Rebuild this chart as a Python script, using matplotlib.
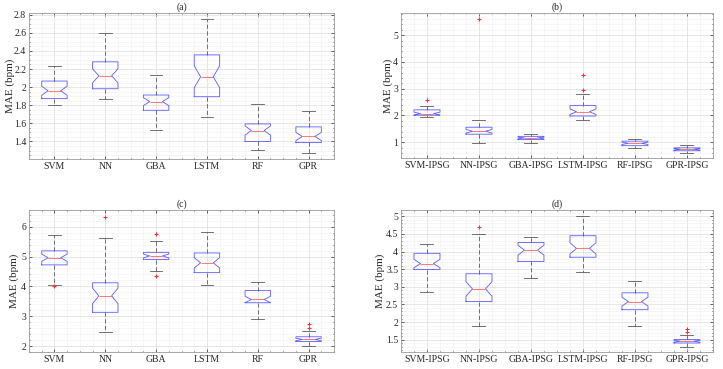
import numpy as np
import matplotlib.pyplot as plt
from matplotlib.ticker import MultipleLocator, FuncFormatter

plt.rcParams['font.family'] = ['Liberation Serif', 'DejaVu Serif']

# number of runs behind each box (sets the notch size, MATLAB style)
n_runs = 36

labels_plain = ["SVM", "NN", "GBA", "LSTM", "RF", "GPR"]
labels_ipsg = ["SVM-IPSG", "NN-IPSG", "GBA-IPSG", "LSTM-IPSG", "RF-IPSG", "GPR-IPSG"]

# (a)
a_lo = [1.80, 1.865, 1.532, 1.671, 1.301, 1.275]
a_q1 = [1.873, 1.982, 1.744, 1.894, 1.40, 1.389]
a_med = [1.960, 2.125, 1.840, 2.114, 1.521, 1.455]
a_q3 = [2.067, 2.279, 1.913, 2.356, 1.594, 1.561]
a_hi = [2.235, 2.598, 2.136, 2.752, 1.818, 1.737]
a_out = [[], [], [], [], [], []]

# (b)
b_lo = [1.93, 0.96, 0.96, 1.82, 0.78, 0.61]
b_q1 = [2.01, 1.30, 1.10, 1.98, 0.87, 0.68]
b_med = [2.07, 1.41, 1.16, 2.14, 0.96, 0.735]
b_q3 = [2.21, 1.56, 1.22, 2.37, 1.04, 0.79]
b_hi = [2.34, 1.82, 1.32, 2.79, 1.11, 0.89]
b_out = [[2.56], [5.60], [], [2.97, 3.50], [], []]

# (c)
c_lo = [4.06, 2.47, 4.51, 4.04, 2.90, 2.00]
c_q1 = [4.72, 3.13, 4.90, 4.46, 3.45, 2.15]
c_med = [4.96, 3.68, 5.02, 4.79, 3.56, 2.22]
c_q3 = [5.19, 4.12, 5.14, 5.12, 3.86, 2.31]
c_hi = [5.72, 5.62, 5.53, 5.83, 4.16, 2.51]
c_out = [[4.02], [6.32], [4.34, 5.75], [], [], [2.59, 2.75]]

# (d)
d_lo = [2.84, 1.90, 3.26, 3.43, 1.90, 1.30]
d_q1 = [3.49, 2.58, 3.72, 3.84, 2.35, 1.405]
d_med = [3.66, 2.94, 4.04, 4.09, 2.58, 1.455]
d_q3 = [3.95, 3.37, 4.26, 4.45, 2.83, 1.505]
d_hi = [4.22, 4.51, 4.42, 5.00, 3.17, 1.64]
d_out = [[], [4.69], [], [], [], [1.71, 1.79]]


def make_stats(lo, q1, med, q3, hi, out):
    stats = []
    for i in range(len(med)):
        half = 1.57 * (q3[i] - q1[i]) / np.sqrt(n_runs)
        stats.append({
            "whislo": lo[i], "q1": q1[i], "med": med[i], "q3": q3[i],
            "whishi": hi[i], "fliers": out[i],
            "cilo": med[i] - half, "cihi": med[i] + half,
        })
    return stats


def draw_panel(ax, labels, stats, title, ylim, major, minor, label_x):
    ax.grid(True, which='major', color='#dcdcdc', linewidth=0.5, zorder=0)
    ax.grid(True, which='minor', color='#efefef', linewidth=0.4, zorder=0)
    ax.set_axisbelow(True)
    ax.bxp(stats, positions=range(1, len(stats) + 1), widths=0.5,
           shownotches=True, showfliers=True,
           boxprops=dict(color='#5a5aff', linewidth=0.6),
           medianprops=dict(color='#ff6060', linewidth=0.6),
           whiskerprops=dict(color='#5a5a5a', linewidth=0.6, linestyle=(0, (5, 3))),
           capprops=dict(color='#5a5a5a', linewidth=0.6),
           flierprops=dict(marker='+', color='#ff3030', markeredgecolor='#ff3030',
                           markersize=3.5, markeredgewidth=0.8, linestyle='none'))
    ax.set_xlim(0.5, len(stats) + 0.5)
    ax.set_ylim(*ylim)
    ax.set_xticks(range(1, len(stats) + 1))
    ax.set_xticklabels(labels)
    ax.xaxis.set_minor_locator(MultipleLocator(0.25))
    ax.yaxis.set_major_locator(MultipleLocator(major))
    ax.yaxis.set_minor_locator(MultipleLocator(minor))
    ax.yaxis.set_major_formatter(FuncFormatter(lambda v, p: f"{v:g}"))
    ax.tick_params(which='both', direction='in', top=True, right=True,
                   labelsize=7, colors='#262626', length=2, width=0.5, pad=2)
    ax.tick_params(which='minor', length=1)
    for s in ax.spines.values():
        s.set_color('#9a9a9a')
        s.set_linewidth(0.6)
    ax.set_ylabel("MAE (bpm)", fontsize=8, color='#262626')
    ax.yaxis.set_label_coords(label_x, 0.5)
    ax.set_title(title, fontsize=7, color='#262626', pad=2)


fig = plt.figure(figsize=(7.23, 3.69), dpi=100)
ax_a = fig.add_axes([0.0401, 0.569, 0.4219, 0.3957])
ax_b = fig.add_axes([0.5546, 0.5718, 0.4315, 0.393])
ax_c = fig.add_axes([0.0401, 0.0461, 0.4219, 0.3848])
ax_d = fig.add_axes([0.5546, 0.0461, 0.4315, 0.3848])

draw_panel(ax_a, labels_plain, make_stats(a_lo, a_q1, a_med, a_q3, a_hi, a_out),
           "(a)", (1.206, 2.818), 0.2, 0.05, -0.046)
draw_panel(ax_b, labels_ipsg, make_stats(b_lo, b_q1, b_med, b_q3, b_hi, b_out),
           "(b)", (0.41, 5.83), 1, 0.2, -0.026)
draw_panel(ax_c, labels_plain, make_stats(c_lo, c_q1, c_med, c_q3, c_hi, c_out),
           "(c)", (1.80, 6.56), 1, 0.2, -0.033)
draw_panel(ax_d, labels_ipsg, make_stats(d_lo, d_q1, d_med, d_q3, d_hi, d_out),
           "(d)", (1.15, 5.18), 0.5, 0.1, -0.051)

fig.savefig("out.png", dpi=100)
